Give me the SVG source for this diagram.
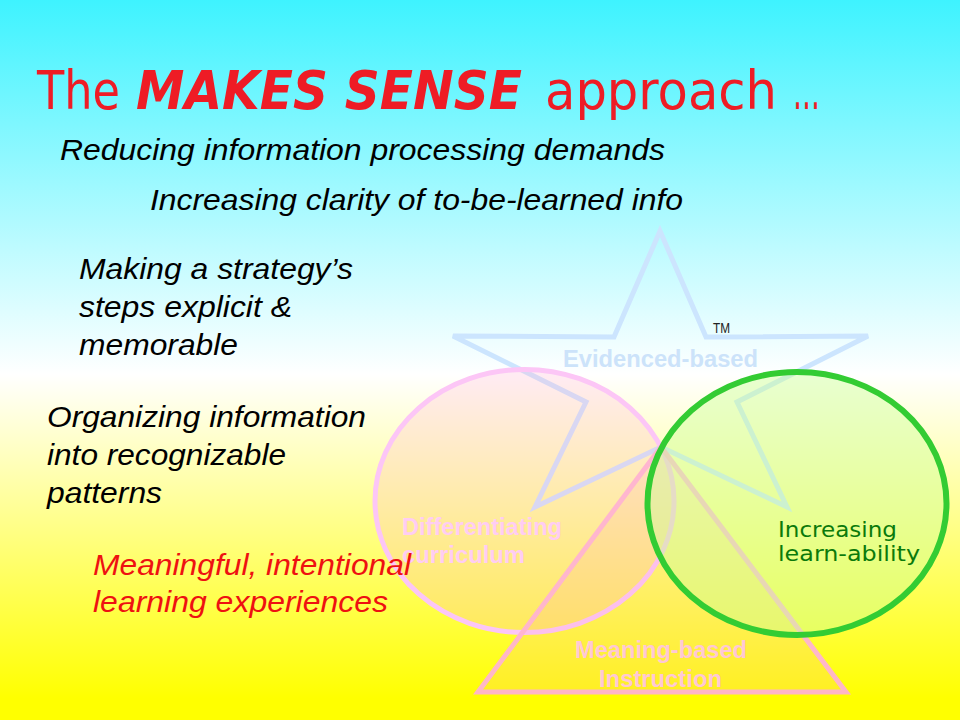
<svg xmlns="http://www.w3.org/2000/svg" width="960" height="720" viewBox="0 0 960 720">
  <defs>
    <linearGradient id="bg" x1="0" y1="0" x2="0" y2="1">
      <stop offset="0" stop-color="#3ef3ff"/>
      <stop offset="0.52" stop-color="#ffffff"/>
      <stop offset="0.97" stop-color="#ffff00"/>
      <stop offset="1" stop-color="#ffff00"/>
    </linearGradient>
    <style>
      .body { font-family: "Liberation Sans", Arial, sans-serif; font-style: italic; font-size: 29px; fill: #000000; }
      .red { fill: #ee1111; }
      .title { font-family: "DejaVu Sans", "Liberation Sans", sans-serif; font-size: 54px; fill: #ee1c25; }
      .titleb { font-weight: bold; font-style: italic; }
      .lbl { font-family: "Liberation Sans", Arial, sans-serif; font-weight: bold; font-size: 23px; }
      .green { font-family: "DejaVu Sans", "Liberation Sans", sans-serif; font-size: 21px; fill: #0b7a0b; }
      .star { fill: none; stroke: #cce5fe; stroke-width: 5; stroke-linejoin: miter; }
      .pinkc { fill: #ffb0d0; fill-opacity: 0.25; stroke: #fcc6f6; stroke-width: 5; }
      .tri { fill: #ff9fb8; fill-opacity: 0.16; stroke: #ffb3d1; stroke-width: 5; stroke-opacity: 0.95; }
      .greenc { fill: #ccff99; fill-opacity: 0.45; stroke: #33cc33; stroke-width: 6; }
    </style>
  </defs>

  <rect x="0" y="0" width="960" height="720" fill="url(#bg)"/>

  <g id="connectors"/>

  <g id="star-evidence">
    <path class="star" d="M660,231 L706,337 L868,336 L737,402 L787,507 L661,447 L535,507 L586,402 L453,336 L614,337 Z"/>
  </g>

  <g id="circle-differentiating">
    <ellipse class="pinkc" cx="524.5" cy="501" rx="149.5" ry="131.5"/>
  </g>

  <g id="triangle-meaning">
    <path class="tri" d="M661,447 L846,692 L478,692 Z"/>
  </g>

  <g id="circle-learnability">
    <ellipse class="greenc" cx="797" cy="503.5" rx="149.5" ry="131.5"/>
  </g>

  <g id="label-evidenced">
    <text class="lbl" x="563" y="367" fill="#cce3fa" textLength="195" lengthAdjust="spacingAndGlyphs">Evidenced-based</text>
    <text x="713" y="333" font-family="Liberation Sans, Arial, sans-serif" font-size="14" fill="#222222" textLength="17" lengthAdjust="spacingAndGlyphs">TM</text>
  </g>

  <g id="label-differentiating" fill="#ffcdf3">
    <text class="lbl" x="402" y="535" textLength="160" lengthAdjust="spacingAndGlyphs">Differentiating</text>
    <text class="lbl" x="402" y="563" textLength="123" lengthAdjust="spacingAndGlyphs">curriculum</text>
  </g>

  <g id="label-meaning" fill="#ffc8d4">
    <text class="lbl" x="575" y="658" textLength="172" lengthAdjust="spacingAndGlyphs">Meaning-based</text>
    <text class="lbl" x="599" y="687" textLength="123" lengthAdjust="spacingAndGlyphs">Instruction</text>
  </g>

  <g id="label-learnability">
    <text class="green" x="778" y="537" textLength="119" lengthAdjust="spacingAndGlyphs">Increasing</text>
    <text class="green" x="778" y="561" textLength="142" lengthAdjust="spacingAndGlyphs">learn-ability</text>
  </g>

  <g id="title">
    <text class="title" x="37" y="109" textLength="83" lengthAdjust="spacingAndGlyphs">The</text>
    <text class="title titleb" x="136" y="109" textLength="386" lengthAdjust="spacingAndGlyphs">MAKES SENSE</text>
    <text class="title" x="545" y="109" textLength="232" lengthAdjust="spacingAndGlyphs">approach</text>
    <text class="title" x="793" y="109" textLength="27" lengthAdjust="spacingAndGlyphs">…</text>
  </g>

  <g id="point-reducing">
    <text class="body" x="60" y="160" font-size="32" textLength="605" lengthAdjust="spacingAndGlyphs">Reducing information processing demands</text>
  </g>
  <g id="point-clarity">
    <text class="body" x="150" y="210" font-size="30" textLength="533" lengthAdjust="spacingAndGlyphs">Increasing clarity of to-be-learned info</text>
  </g>

  <g id="point-strategy">
    <text class="body" x="79" y="279" textLength="274" lengthAdjust="spacingAndGlyphs">Making a strategy’s</text>
    <text class="body" x="79" y="317" textLength="213" lengthAdjust="spacingAndGlyphs">steps explicit &amp;</text>
    <text class="body" x="79" y="355" textLength="159" lengthAdjust="spacingAndGlyphs">memorable</text>
  </g>

  <g id="point-organizing">
    <text class="body" x="47" y="427" textLength="319" lengthAdjust="spacingAndGlyphs">Organizing information</text>
    <text class="body" x="47" y="465" textLength="239" lengthAdjust="spacingAndGlyphs">into recognizable</text>
    <text class="body" x="47" y="503" textLength="115" lengthAdjust="spacingAndGlyphs">patterns</text>
  </g>

  <g id="point-meaningful">
    <text class="body red" x="93" y="575" textLength="318" lengthAdjust="spacingAndGlyphs">Meaningful, intentional</text>
    <text class="body red" x="93" y="612" textLength="295" lengthAdjust="spacingAndGlyphs">learning experiences</text>
  </g>
</svg>
